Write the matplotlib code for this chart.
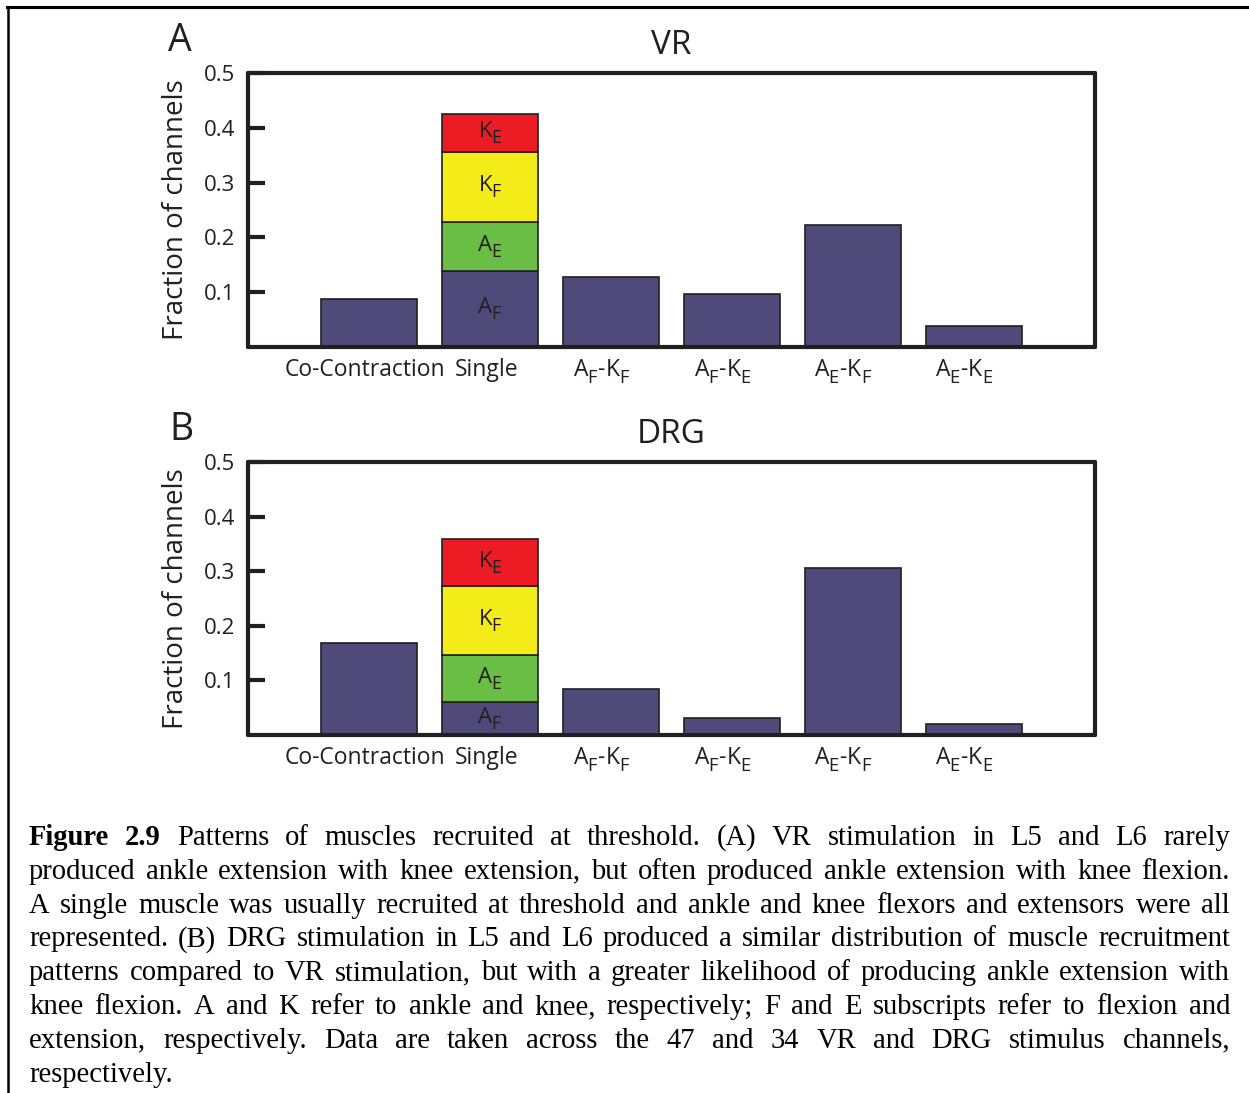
import numpy as np
import matplotlib
matplotlib.use("Agg")
import matplotlib.pyplot as plt
import matplotlib._mathtext as mathtext_internals
from matplotlib.lines import Line2D

# larger, lower subscripts for the muscle labels
mathtext_internals.SHRINK_FACTOR = 0.8
mathtext_internals.FontConstantsBase.sub1 = 0.55
mathtext_internals.FontConstantsBase.sub2 = 0.7

W, H = 1249, 1093
ink = "#231F20"
purple = "#4F4A7A"
seg_colors = ["#4F4A7A", "#6ABD45", "#F3EC19", "#ED1C24"]

categories = ["Co-Contraction", "Single",
              r"$\mathregular{A_F}$-$\mathregular{K_F}$",
              r"$\mathregular{A_F}$-$\mathregular{K_E}$",
              r"$\mathregular{A_E}$-$\mathregular{K_F}$",
              r"$\mathregular{A_E}$-$\mathregular{K_E}$"]
seg_labels = [r"$\mathregular{A_F}$", r"$\mathregular{A_E}$",
              r"$\mathregular{K_F}$", r"$\mathregular{K_E}$"]

# fraction of channels, every pattern except "Single"
vr_patterns = [0.088, 0.127, 0.096, 0.2225, 0.038]
drg_patterns = [0.169, 0.084, 0.031, 0.306, 0.020]
# "Single" split by muscle: A_F, A_E, K_F, K_E
vr_single = [0.139, 0.089, 0.128, 0.069]
drg_single = [0.061, 0.086, 0.125, 0.087]

yticks = [0.1, 0.2, 0.3, 0.4, 0.5]

font = "Open Sans"
plt.rcParams["font.family"] = [font, "DejaVu Sans"]

fig = plt.figure(figsize=(W / 100, H / 100), dpi=100)


def px_box(left, top, right, bottom):
    return [left / W, 1 - bottom / H, (right - left) / W, (bottom - top) / H]


def panel(rect, patterns, single, title, letter, letter_xy, title_y):
    ax = fig.add_axes(rect)
    x = np.arange(len(categories))
    others = [i for i in x if i != 1]
    ax.bar(others, patterns, width=0.8, color=purple, edgecolor=ink,
           linewidth=1.2, zorder=2)
    bottoms = np.concatenate([[0], np.cumsum(single)[:-1]])
    for h, b, c, lab in zip(single, bottoms, seg_colors, seg_labels):
        ax.bar(1, h, bottom=b, width=0.8, color=c, edgecolor=ink,
               linewidth=1.2, zorder=2)
        ax.text(1, b + h / 2, lab, ha="center", va="center",
                fontsize=16, color=ink, zorder=3)
    ax.set_xlim(-1, 6)
    ax.set_ylim(0, 0.5)
    ax.set_yticks(yticks)
    ax.set_yticklabels([f"{v:.1f}" for v in yticks])
    offs = [-0.03, -0.03, -0.08, -0.08, -0.08, -0.08]
    ax.set_xticks(x + np.array(offs))
    ax.set_xticklabels(categories)
    ax.tick_params(axis="y", direction="in", length=12, width=3, pad=9,
                   labelsize=16, color=ink, labelcolor=ink)
    ax.tick_params(axis="x", length=0, pad=8, labelsize=16.5,
                   labelcolor=ink)
    for s in ax.spines.values():
        s.set_linewidth(3)
        s.set_color(ink)
        s.set_capstyle("round")
    ax.set_ylabel("Fraction of channels", fontsize=20, color=ink)
    ax.yaxis.set_label_coords(-0.068, 0.5)
    fig.text(((rect[0] + rect[0] + rect[2]) / 2), 1 - title_y / H, title,
             ha="center", va="center", fontsize=24, color=ink)
    fig.text(letter_xy[0] / W, 1 - letter_xy[1] / H, letter, ha="center",
             va="center", fontsize=27, color=ink)
    return ax


panel(px_box(248, 73, 1095, 347), vr_patterns, vr_single, "VR", "A",
      (180, 41), 45)
panel(px_box(248, 462, 1095, 735), drg_patterns, drg_single, "DRG", "B",
      (181, 430), 434)

# page frame
fig.add_artist(Line2D([7 / W, 1], [1 - 7 / H, 1 - 7 / H], color="black",
                      linewidth=2.2))
fig.add_artist(Line2D([8 / W, 8 / W], [1 - 7 / H, 0], color="black",
                      linewidth=1.8))

# justified caption
caption = [
    "Figure 2.9 Patterns of muscles recruited at threshold. (A) VR stimulation in L5 and L6 rarely",
    "produced ankle extension with knee extension, but often produced ankle extension with knee flexion.",
    "A single muscle was usually recruited at threshold and ankle and knee flexors and extensors were all",
    "represented. (B) DRG stimulation in L5 and L6 produced a similar distribution of muscle recruitment",
    "patterns compared to VR stimulation, but with a greater likelihood of producing ankle extension with",
    "knee flexion. A and K refer to ankle and knee, respectively; F and E subscripts refer to flexion and",
    "extension, respectively. Data are taken across the 47 and 34 VR and DRG stimulus channels,",
    "respectively.",
]
cap_left, cap_right = 29, 1230
base0, lead = 845, 33.8
fig.canvas.draw()
r = fig.canvas.get_renderer()
for i, line in enumerate(caption):
    y = 1 - (base0 + i * lead) / H
    words = line.split()
    arts = []
    for j, w in enumerate(words):
        bold = i == 0 and j < 2
        t = fig.text(0, y, w, fontsize=20.6, family="Liberation Serif",
                     fontweight="bold" if bold else "normal", va="baseline",
                     ha="left", color="black")
        arts.append(t)
    widths = [t.get_window_extent(r).width for t in arts]
    if i < len(caption) - 1 and len(words) > 1:
        gap = (cap_right - cap_left - sum(widths)) / (len(words) - 1)
    else:
        gap = 7
    xpos = cap_left
    for t, wd in zip(arts, widths):
        t.set_x(xpos / W)
        xpos += wd + gap

fig.savefig("out.png", dpi=100, facecolor="white")
